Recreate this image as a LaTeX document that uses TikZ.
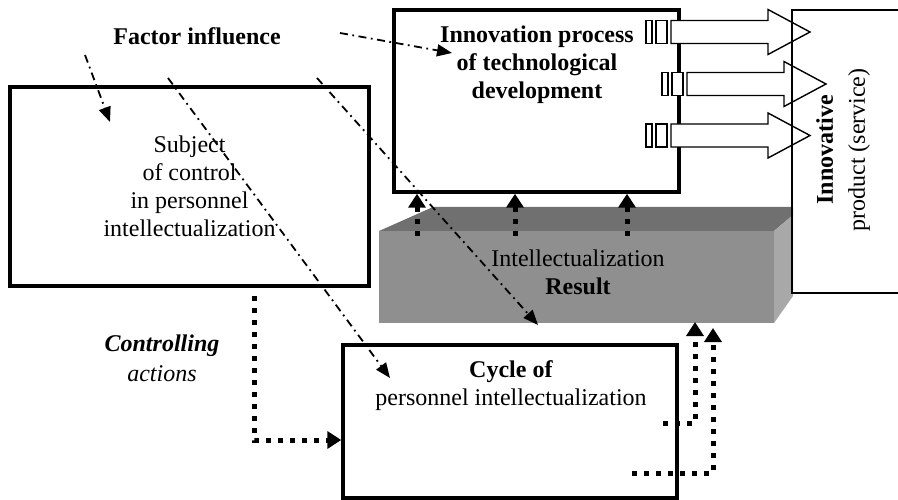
\documentclass[tikz,border=0pt]{standalone}
\usepackage{fontspec}
\setmainfont{Liberation Serif}
\usetikzlibrary{arrows.meta}
\definecolor{resulttop}{gray}{0.44}
\definecolor{resultfront}{gray}{0.56}
\definecolor{resultside}{gray}{0.66}
\begin{document}
\begin{tikzpicture}[x=1pt,y=-1pt,
    every node/.style={font=\fontsize{24}{28}\selectfont, inner sep=0pt, align=center},
    heading/.style={font=\fontsize{24}{28}\selectfont\bfseries},
    box/.style={draw, line width=3.4pt},
    influence/.style={line width=1.8pt, dash pattern=on 8pt off 4.5pt on 1.8pt off 4.5pt,
      -{Triangle[length=15pt,width=12pt]}},
    action/.style={line width=5pt, dash pattern=on 5pt off 7pt,
      -{Triangle[length=14pt,width=17pt]}},
    outflow/.style={draw, fill=white, line width=1.4pt}]
  \useasboundingbox (0,0) rectangle (898,500);

  % the result block
  \fill[resulttop] (379,231) -- (433,207) -- (793,207) -- (793,215) -- (774,231) -- cycle;
  \fill[resultside] (774,231) -- (793,215) -- (793,296) -- (774,323) -- cycle;
  \node[fill=resultfront, minimum width=395pt, minimum height=92pt] (result) at (576.5,277) {};
  \node (resulttext) at (578,272) {Intellectualization\\\textbf{Result}};

  \node[box, minimum width=359pt, minimum height=199pt] (subject) at (189.5,186.5)
    {Subject\\of control\\in personnel\\intellectualization};
  \node[box, minimum width=285pt, minimum height=182pt] (innov) at (536.5,101) {};
  \node[heading] (innovtext) at (537,65) {Innovation process\\of technological\\development};
  \node[box, minimum width=334pt, minimum height=153pt] (cycle) at (510,421.5) {};
  \node (cycletext) at (511,386) {\textbf{Cycle of}\\personnel intellectualization};

  \node[heading] (factor) at (197,36) {Factor influence};
  \node[font=\fontsize{24}{30}\selectfont\itshape] (controlling) at (162,358)
    {\textbf{Controlling}\\actions};

  % outputs of the innovation process
  \draw[outflow] (646,20.5) rectangle (652,43.5);
  \draw[outflow] (656,20.5) rectangle (667,43.5);
  \draw[outflow] (671,20.5) -- (768,20.5) -- (768,9.5) -- (810,32) -- (768,54.5)
    -- (768,43.5) -- (671,43.5) -- cycle;
  \draw[outflow] (662,72.5) rectangle (668,95.5);
  \draw[outflow] (672,72.5) rectangle (683,95.5);
  \draw[outflow] (687,72.5) -- (784,72.5) -- (784,61.5) -- (826,84) -- (784,106.5)
    -- (784,95.5) -- (687,95.5) -- cycle;
  \draw[outflow] (646,124) rectangle (652,147);
  \draw[outflow] (656,124) rectangle (667,147);
  \draw[outflow] (671,124) -- (768,124) -- (768,113) -- (810,135.5) -- (768,158)
    -- (768,147) -- (671,147) -- cycle;

  \node[draw, line width=2pt, minimum width=208pt, minimum height=283pt] (product) at (896,151.5) {};
  \node[rotate=90, font=\fontsize{24}{32}\selectfont] (producttext) at (843,150)
    {\textbf{Innovative}\\product (service)};

  \coordinate (f1) at (340,33);
  \coordinate (f2) at (85,55);
  \coordinate (f3) at (168,78);
  \coordinate (f4) at (317,78);
  \coordinate (t1) at (452,53);
  \coordinate (t2) at (110,122);
  \coordinate (t3) at (390,378);
  \coordinate (t4) at (538,325);
  \draw[influence] (f1) -- (t1);
  \draw[influence] (f2) -- (t2);
  \draw[influence] (f3) -- (t3);
  \draw[influence] (f4) -- (t4);

  \coordinate (u1) at (417,236);
  \coordinate (u2) at (515,236);
  \coordinate (u3) at (627,236);
  \draw[action] (u1) -- (u1 |- innov.south);
  \draw[action] (u2) -- (u2 |- innov.south);
  \draw[action] (u3) -- (u3 |- innov.south);

  \coordinate (c1) at (254,296);
  \coordinate (c2) at (254,440);
  \draw[action] (c1) -- (c2) -- (c2 -| cycle.west);

  \coordinate (d1) at (663,423);
  \coordinate (e1) at (695,322);
  \coordinate (d2) at (632,473);
  \coordinate (e2) at (713,328);
  \draw[action] (d1) -| (e1);
  \draw[action] (d2) -| (e2);
\end{tikzpicture}
\end{document}
